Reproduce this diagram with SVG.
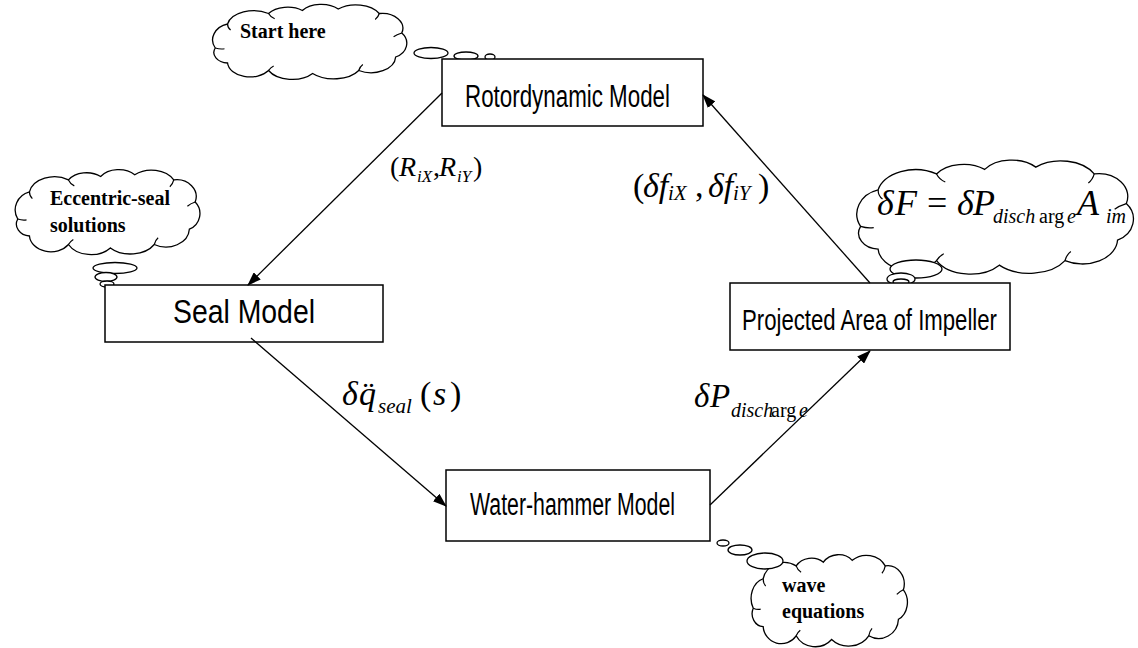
<svg xmlns="http://www.w3.org/2000/svg" width="1138" height="648" viewBox="0 0 1138 648">
  <style>
    .box { fill: #fff; stroke: #000; stroke-width: 1.5; }
    .lbl { font-family: "Liberation Sans", Arial, sans-serif; fill: #000; }
    .cloud { fill: #fff; stroke: #000; stroke-width: 1.3; vector-effect: non-scaling-stroke; }
    .hook { fill: none; stroke: #000; stroke-width: 1.2; vector-effect: non-scaling-stroke; }
    .bub { fill: #fff; stroke: #000; stroke-width: 1.3; }
    .note { font-family: "Liberation Serif", "Times New Roman", serif; font-weight: bold; font-size: 20px; fill: #000; }
    .math { font-family: "Liberation Serif", "Times New Roman", serif; fill: #000; }
    .it { font-style: italic; }
    .conn { stroke: #000; stroke-width: 1.3; fill: none; marker-end: url(#arrow); }
  </style>
  <defs>
    <marker id="arrow" markerUnits="userSpaceOnUse" markerWidth="14" markerHeight="10" refX="13" refY="5" orient="auto">
      <path d="M0,0 L14,5 L0,10 Z" fill="#000"/>
    </marker>
    <!-- generic thought-cloud outline in a 200x100 unit box -->
    <g id="cloudShape">
      <path class="cloud" d="M10,60 A20,22 0 0 1 22,28 A26,22 0 0 1 62,14 A22,18 0 0 1 95,10 A22,18 0 0 1 130,8 A26,22 0 0 1 170,14 A20,20 0 0 1 192,40 A18,20 0 0 1 186,72 A24,22 0 0 1 150,90 A28,22 0 0 1 105,94 A26,22 0 0 1 62,90 A22,20 0 0 1 22,80 A14,14 0 0 1 10,60 Z"/>
      <path class="hook" d="M22,28 Q22,33 25,36 M62,14 Q64,19 68,21 M170,14 Q169,19 166,22 M192,40 Q187,42 184,45 M150,90 Q151,85 154,82 M62,90 Q64,86 67,84 M10,60 Q15,62 19,61"/>
    </g>
  </defs>

  <!-- thought clouds -->
  <g id="cloud-start">
    <use href="#cloudShape" transform="translate(205,3) scale(1.025,0.75)"/>
    <ellipse class="bub" cx="431" cy="53" rx="17" ry="5.5"/>
    <ellipse class="bub" cx="466" cy="56" rx="12" ry="4"/>
    <ellipse class="bub" cx="490" cy="57" rx="5" ry="3"/>
    <text class="note" x="240" y="38">Start here</text>
  </g>

  <g id="cloud-eccentric">
    <use href="#cloudShape" transform="translate(8,168) scale(0.975,0.85)"/>
    <ellipse class="bub" cx="115" cy="268" rx="22" ry="5.5"/>
    <ellipse class="bub" cx="106" cy="277" rx="11" ry="4.5"/>
    <ellipse class="bub" cx="107" cy="284" rx="7" ry="3"/>
    <text class="note" x="50" y="205">Eccentric-seal</text>
    <text class="note" x="50" y="232">solutions</text>
  </g>

  <g id="cloud-force">
    <use href="#cloudShape" transform="translate(846,158) scale(1.46,1.14)"/>
    <ellipse class="bub" cx="916" cy="269" rx="26" ry="9"/>
    <ellipse class="bub" cx="901" cy="279" rx="14" ry="6"/>
    <ellipse class="bub" cx="901" cy="282" rx="8" ry="3"/>
    <text class="math" font-size="36" y="215"><tspan class="it" x="877">δ</tspan><tspan class="it" x="895">F</tspan><tspan x="927">=</tspan><tspan class="it" x="957">δ</tspan><tspan class="it" x="973">P</tspan><tspan class="it" font-size="20" x="993" y="223">disch</tspan><tspan font-size="20" x="1039" y="223">arg</tspan><tspan class="it" font-size="20" x="1067" y="223">e</tspan><tspan class="it" x="1077" y="215">A</tspan><tspan class="it" font-size="20" x="1106" y="223">im</tspan></text>
  </g>

  <g id="cloud-wave">
    <use href="#cloudShape" transform="translate(745,553) scale(0.825,0.92)"/>
    <ellipse class="bub" cx="723" cy="543" rx="6" ry="3"/>
    <ellipse class="bub" cx="740" cy="550" rx="12" ry="5"/>
    <ellipse class="bub" cx="765" cy="561" rx="18" ry="8"/>
    <text class="note" x="782" y="592">wave</text>
    <text class="note" x="782" y="618">equations</text>
  </g>

  <!-- model blocks -->
  <g id="rotordynamic">
    <rect class="box" x="442" y="59" width="261" height="67"/>
    <text class="lbl" x="465" y="107" font-size="31" textLength="205" lengthAdjust="spacingAndGlyphs">Rotordynamic Model</text>
  </g>

  <g id="seal">
    <rect class="box" x="105" y="285" width="278" height="57"/>
    <text class="lbl" x="173" y="323" font-size="33" textLength="142" lengthAdjust="spacingAndGlyphs">Seal Model</text>
  </g>

  <g id="waterhammer">
    <rect class="box" x="446" y="470" width="264" height="71"/>
    <text class="lbl" x="470" y="515" font-size="31" textLength="205" lengthAdjust="spacingAndGlyphs">Water-hammer Model</text>
  </g>

  <g id="impeller">
    <rect class="box" x="730" y="283" width="280" height="67"/>
    <text class="lbl" x="742" y="330" font-size="29" textLength="255" lengthAdjust="spacingAndGlyphs">Projected Area of Impeller</text>
  </g>

  <!-- connectors -->
  <g id="connectors">
    <line class="conn" x1="442" y1="93" x2="248" y2="285"/>
    <line class="conn" x1="251" y1="338" x2="446" y2="506"/>
    <line class="conn" x1="710" y1="505" x2="870" y2="351"/>
    <line class="conn" x1="870" y1="283" x2="703" y2="95"/>
  </g>

  <!-- connector labels -->
  <g id="connector-labels">
    <text class="math" font-size="28" y="176"><tspan x="390">(</tspan><tspan class="it" x="399">R</tspan><tspan class="it" font-size="17" x="417" y="182">iX</tspan><tspan x="433" y="176">,</tspan><tspan class="it" x="439">R</tspan><tspan class="it" font-size="17" x="457" y="182">iY</tspan><tspan x="473" y="176">)</tspan></text>

    <text class="math" font-size="34" y="197"><tspan x="633">(</tspan><tspan class="it" x="643">δf</tspan><tspan class="it" font-size="21" x="668" y="200">iX</tspan><tspan x="695" y="197">,</tspan><tspan class="it" x="708">δf</tspan><tspan class="it" font-size="21" x="733" y="200">iY</tspan><tspan x="758" y="197">)</tspan></text>

    <text class="math" font-size="34" y="405"><tspan class="it" x="342">δ</tspan><tspan class="it" x="359">q̈</tspan><tspan class="it" font-size="21" x="378" y="413">seal</tspan><tspan x="420" y="405">(</tspan><tspan class="it" x="433">s</tspan><tspan x="450">)</tspan></text>

    <text class="math" font-size="33" y="407"><tspan class="it" x="694">δ</tspan><tspan class="it" x="710">P</tspan><tspan class="it" font-size="20" x="731" y="417">disch</tspan><tspan font-size="20" x="771">arg</tspan><tspan class="it" font-size="20" x="799">e</tspan></text>
  </g>
</svg>
